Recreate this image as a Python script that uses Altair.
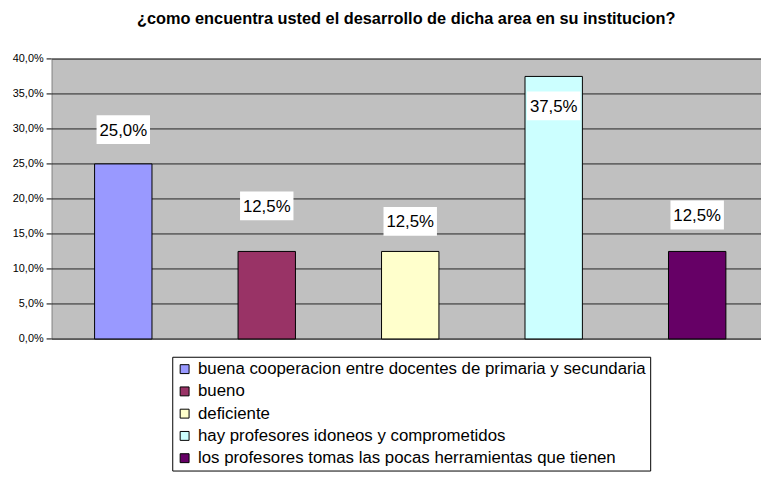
import altair as alt
import pandas as pd

categories = [
    "buena cooperacion entre docentes de primaria y secundaria",
    "bueno",
    "deficiente",
    "hay profesores idoneos y comprometidos",
    "los profesores tomas las pocas herramientas que tienen",
]
values = [25.0, 12.5, 12.5, 37.5, 12.5]
label_pos = [29.9, 19.0, 16.8, 33.3, 17.7]
colors = ["#9999FF", "#993366", "#FFFFCC", "#CCFFFF", "#660066"]
y_ticks = [0, 5, 10, 15, 20, 25, 30, 35, 40]
title_text = "¿como encuentra usted el desarrollo de dicha area en su institucion?"


def pct(v):
    return f"{v:.1f}".replace(".", ",") + "%"


df = pd.DataFrame({
    "cat": categories,
    "idx": list(range(len(categories))),
    "val": values,
    "lab": label_pos,
    "txt": [pct(v) for v in values],
})
ticks_df = pd.DataFrame({"t": y_ticks, "lbl": [pct(t) for t in y_ticks]})

# category slots: each category occupies one unit, plot shows 4.94 units
xscale = alt.Scale(domain=[-0.5, 4.4448], nice=False, zero=False, padding=0)
yscale = alt.Scale(domain=[y_ticks[0], y_ticks[-1]], nice=False)

xenc = alt.X("idx:Q", axis=None, scale=xscale)

grid = alt.Chart(ticks_df).mark_rule(color="#222222", strokeWidth=1).encode(
    y=alt.Y("t:Q", scale=yscale, axis=None)
)
tick_marks = alt.Chart(ticks_df).mark_rule(color="black", strokeWidth=1).encode(
    x=alt.value(-5), x2=alt.value(0),
    y=alt.Y("t:Q", scale=yscale, axis=None),
)
tick_labels = alt.Chart(ticks_df).mark_text(
    font="Liberation Sans", fontSize=11, color="black", align="right", baseline="middle",
).encode(x=alt.value(-8), y=alt.Y("t:Q", scale=yscale, axis=None), text="lbl:N")

bars = alt.Chart(df).mark_bar(stroke="black", strokeWidth=1, size=58).encode(
    x=xenc,
    y=alt.Y("val:Q", scale=yscale,
            axis=alt.Axis(title=None, labels=False, ticks=False, grid=False,
                          domain=True, domainColor="black")),
    color=alt.Color("cat:N", sort=categories,
                    scale=alt.Scale(domain=categories, range=colors),
                    legend=alt.Legend(title=None, orient="none", legendX=122, legendY=301,
                                      strokeColor="black", fillColor="white", padding=4,
                                      symbolType="square", symbolSize=81,
                                      symbolStrokeColor="black", symbolStrokeWidth=1,
                                      labelFont="Liberation Sans", labelFontSize=17,
                                      labelColor="black", rowPadding=4.5, labelOffset=5,
                                      labelLimit=700, symbolOpacity=1)),
)

boxes = alt.Chart(df).mark_point(
    shape="M-1,-0.54L1,-0.54L1,0.54L-1,0.54Z", filled=True, color="white",
    opacity=1, size=54 * 54, strokeWidth=0,
).encode(x=xenc, y=alt.Y("lab:Q", scale=yscale, axis=None))

texts = alt.Chart(df).mark_text(
    font="Liberation Sans", fontSize=17, color="black", baseline="middle", dy=1,
).encode(x=xenc, y=alt.Y("lab:Q", scale=yscale, axis=None), text="txt:N")

chart = alt.layer(grid, tick_marks, tick_labels, bars, boxes, texts).properties(
    width=717, height=283,
    padding={"left": 44, "top": 49, "right": 0, "bottom": 132},
    autosize="none",
    title=alt.TitleParams(title_text, font="Liberation Sans", fontSize=16.5, fontWeight="bold",
                          anchor="middle", offset=26, color="black"),
).configure_view(fill="#C0C0C0", stroke="#808080")

chart.save("out.html", embed_options={"renderer": "svg", "actions": False})
